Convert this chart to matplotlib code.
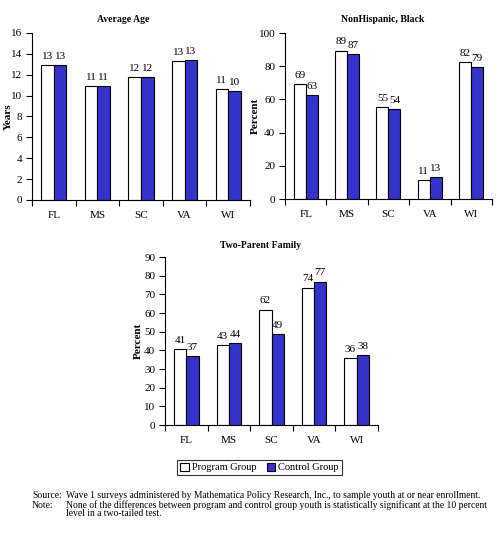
import numpy as np
import matplotlib
matplotlib.use("Agg")
import matplotlib.pyplot as plt
from matplotlib.patches import Patch

plt.rcParams['font.family'] = ['Liberation Serif', 'DejaVu Serif']

states = ["FL", "MS", "SC", "VA", "WI"]

age_program = [12.9, 10.9, 11.8, 13.3, 10.6]
age_control = [12.9, 10.9, 11.8, 13.4, 10.4]

black_program = [69.0, 89.4, 55.4, 11.2, 82.3]
black_control = [62.8, 87.1, 54.4, 13.4, 79.3]

twoparent_program = [40.8, 42.9, 61.8, 73.6, 35.9]
twoparent_control = [37.0, 44.0, 48.8, 76.8, 37.5]

BLUE = "#3333cc"
FS = 8


def draw_panel(ax, prog, ctrl, ymax, ystep, ylabel, label_x):
    x = np.arange(len(states)) + 0.5
    w = 0.29
    ax.bar(x - w / 2, prog, w, color="white", edgecolor="black", linewidth=0.8)
    ax.bar(x + w / 2, ctrl, w, color=BLUE, edgecolor="black", linewidth=0.8)
    off = ymax * 0.025
    for xi, p, c in zip(x, prog, ctrl):
        ax.text(xi - w / 2, p + off, f"{p:.0f}", ha="center", va="bottom", fontsize=FS)
        ax.text(xi + w / 2, c + off, f"{c:.0f}", ha="center", va="bottom", fontsize=FS)
    ax.set_xlim(0, len(states))
    ax.set_ylim(0, ymax)
    ax.set_yticks(np.arange(0, ymax + 0.1, ystep))
    ax.set_xticks(np.arange(len(states) + 1))
    ax.set_xticklabels([])
    ax.set_xticks(x, minor=True)
    ax.set_xticklabels(states, minor=True)
    ax.tick_params(axis="x", which="major", length=4, width=0.8, direction="out")
    ax.tick_params(axis="x", which="minor", length=0, pad=8, labelsize=FS)
    ax.tick_params(axis="y", length=4, width=0.8, direction="out", labelsize=FS, pad=3)
    for s in ["top", "right"]:
        ax.spines[s].set_visible(False)
    for s in ["left", "bottom"]:
        ax.spines[s].set_linewidth(0.8)
    ax.set_ylabel(ylabel, fontsize=FS, fontweight="bold")
    ax.yaxis.set_label_coords(label_x, 0.5)


fig = plt.figure(figsize=(4.96, 5.33), dpi=100)

ax1 = fig.add_axes([0.0645, 0.6248, 0.4395, 0.3133])
draw_panel(ax1, age_program, age_control, 16, 2, "Years", -0.087)
fig.text(123 / 496, 1 - 20 / 533, "Average Age", ha="center", va="center",
         fontsize=7, fontweight="bold")

ax2 = fig.add_axes([0.5746, 0.6266, 0.4173, 0.3114])
draw_panel(ax2, black_program, black_control, 100, 20, "Percent", -0.12)
fig.text(383 / 496, 1 - 20 / 533, "NonHispanic, Black", ha="center", va="center",
         fontsize=7, fontweight="bold")

ax3 = fig.add_axes([0.3327, 0.2026, 0.4294, 0.3152])
draw_panel(ax3, twoparent_program, twoparent_control, 90, 10, "Percent", -0.103)
fig.text(260 / 496, 1 - 245 / 533, "Two-Parent Family", ha="center", va="center",
         fontsize=7, fontweight="bold")

handles = [Patch(facecolor="white", edgecolor="black", linewidth=0.8, label="Program Group"),
           Patch(facecolor=BLUE, edgecolor="black", linewidth=0.8, label="Control Group")]
leg = fig.legend(handles=handles, loc="center", bbox_to_anchor=(0.523, 0.123), ncol=2,
                 fontsize=7.5, frameon=True, fancybox=False, edgecolor="black",
                 handlelength=0.8, handleheight=0.8, handletextpad=0.3,
                 columnspacing=1.0, borderpad=0.3, borderaxespad=0)
leg.get_frame().set_linewidth(0.8)

fs_note = 6.9
fig.text(32 / 496, 1 - 496 / 533, "Source:", fontsize=fs_note, va="center")
fig.text(66 / 496, 1 - 496 / 533,
         "Wave 1 surveys administered by Mathematica Policy Research, Inc., to sample youth at or near enrollment.",
         fontsize=fs_note, va="center")
fig.text(32 / 496, 1 - 505 / 533, "Note:", fontsize=fs_note, va="center")
fig.text(66 / 496, 1 - 505 / 533,
         "None of the differences between program and control group youth is statistically significant at the 10 percent",
         fontsize=fs_note, va="center")
fig.text(66 / 496, 1 - 513 / 533, "level in a two-tailed test.",
         fontsize=fs_note, va="center")

fig.savefig("out.png", dpi=100)
